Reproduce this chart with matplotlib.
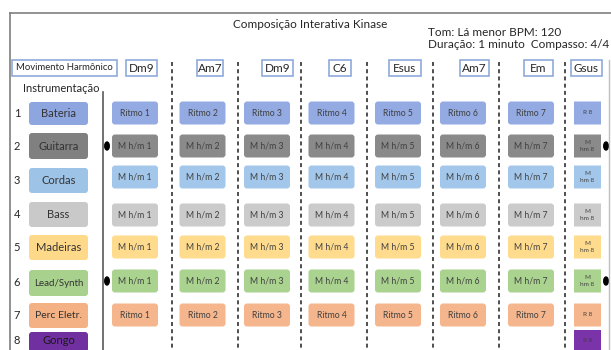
import matplotlib.pyplot as plt
from matplotlib.patches import FancyBboxPatch, Ellipse

plt.rcParams['font.family'] = ['Lato', 'DejaVu Sans']

# data
title = "Composição Interativa Kinase"
info = ["Tom: Lá menor BPM: 120", "Duração: 1 minuto  Compasso: 4/4"]
chords = ["Dm9", "Am7", "Dm9", "C6", "Esus", "Am7", "Em", "Gsus"]
instruments = ["Bateria", "Guitarra", "Cordas", "Bass", "Madeiras",
               "Lead/Synth", "Perc Eletr.", "Gongo"]
inst_colors = ["#8EA6DF", "#808080", "#9DC3E6", "#C9C9C9", "#FFD98A",
               "#A9D18E", "#F4B183", "#7030A0"]
cell_colors = ["#93AAE2", "#8A8A8A", "#A3C7EA", "#CBCBCB", "#FFDB8E",
               "#AAD390", "#F5B68D", "#7A33A8"]
row_kind = ["Ritmo", "M h/m", "M h/m", "M h/m", "M h/m", "M h/m", "Ritmo", "Ritmo"]
n_full = 7          # columns with full-size cells
last_ritmo = "R 8"
last_mhm = "M\nhm 8"
dot_rows = [2, 6]

# layout (pixels)
chord_x = [[126, 157], [197, 223], [262, 293], [329, 351], [389, 421],
           [460, 489], [524, 553], [571, 602]]
cell_cx = [135, 202.5, 267, 331.5, 398, 463, 531, 587.5]
cell_row_y = [113, 146, 177, 215, 247, 281, 315, 341]
inst_y = [(102, 125), (133, 159), (168, 193), (202, 227), (235, 260),
          (270, 296), (303, 328), (332, 352)]
dash_x = [172, 238, 301, 367, 433, 499, 565]
inst_fs = [8, 8, 8, 8, 8, 7, 7.5, 8]

fig = plt.figure(figsize=(6.11, 3.5), dpi=100)
ax = fig.add_axes([0, 0, 1, 1])
ax.set_xlim(0, 611)
ax.set_ylim(350, 0)
ax.axis('off')

# frame
ax.plot([10, 611], [13, 13], color='#7F7F7F', lw=1.2)
ax.plot([10, 10], [13, 350], color='#7F7F7F', lw=1.2)
ax.plot([609, 609], [60, 350], color='#BFBFBF', lw=1)

ax.text(310, 25, title, ha='center', va='center', fontsize=8.5, color='#262626')
ax.text(428, 32, info[0], ha='left', va='center', fontsize=8.5, color='#262626')
ax.text(428, 45, info[1], ha='left', va='center', fontsize=8.5, color='#262626')

def box(x0, y0, x1, y1, fc, ec='none', lw=0, r=3):
    p = FancyBboxPatch((x0, y0), x1 - x0, y1 - y0,
                       boxstyle=f"round,pad=0,rounding_size={r}",
                       fc=fc, ec=ec, lw=lw)
    ax.add_patch(p)

# harmonic movement
box(12, 60, 117, 76, 'white', '#8FAADC', 1.2, r=0)
ax.text(64.5, 68, "Movimento Harmônico", ha='center', va='center',
        fontsize=6.8, color='#262626')
for (x0, x1), c in zip(chord_x, chords):
    box(x0, 60, x1, 76, 'white', '#8FAADC', 1.2, r=0)
    ax.text((x0 + x1) / 2, 68, c, ha='center', va='center', fontsize=8.5,
            color='#262626')

for x in dash_x:
    ax.plot([x, x], [62, 350], color='#404040', lw=1.3, ls=(0, (2.2, 1.8)))

ax.text(61, 88, "Instrumentação", ha='center', va='center', fontsize=8,
        color='#262626')
ax.plot([103, 103], [92, 350], color='#595959', lw=1.2)

# instruments
for i, (name, col) in enumerate(zip(instruments, inst_colors)):
    y0, y1 = inst_y[i]
    box(29, y0, 88, y1, col, r=3)
    yc = (y0 + min(y1, 350)) / 2
    ax.text(17, yc, str(i + 1), ha='center', va='center', fontsize=8,
            color='#262626')
    ax.text(58.5, yc, name, ha='center', va='center', fontsize=inst_fs[i],
            color='#1a1a1a' if i == 7 else '#333333')

# cells
for r in range(8):
    yc = cell_row_y[r]
    col = cell_colors[r]
    if r < 7:
        for c in range(n_full):
            cx = cell_cx[c]
            box(cx - 23, yc - 11.5, cx + 23, yc + 11.5, col, r=3)
            ax.text(cx, yc, f"{row_kind[r]} {c + 1}", ha='center', va='center',
                    fontsize=6.2, color='#404040')
    cx = cell_cx[7]
    if r == 7:
        box(cx - 13.5, yc - 11, cx + 13.5, yc + 12, col, r=0)
    else:
        box(cx - 13.5, yc - 11.5, cx + 13.5, yc + 11.5, col, r=0)
    lbl = last_ritmo if row_kind[r] == "Ritmo" else last_mhm
    ax.text(cx, yc, lbl, ha='center', va='center', fontsize=4.6,
            color='#404040', linespacing=1.4)

# dots
for r in dot_rows:
    yc = cell_row_y[r - 1]
    ax.add_patch(Ellipse((107, yc), 4.5, 8, color='black'))
    ax.add_patch(Ellipse((606, yc), 4.5, 8, color='black'))

fig.savefig('out.png', dpi=100)
